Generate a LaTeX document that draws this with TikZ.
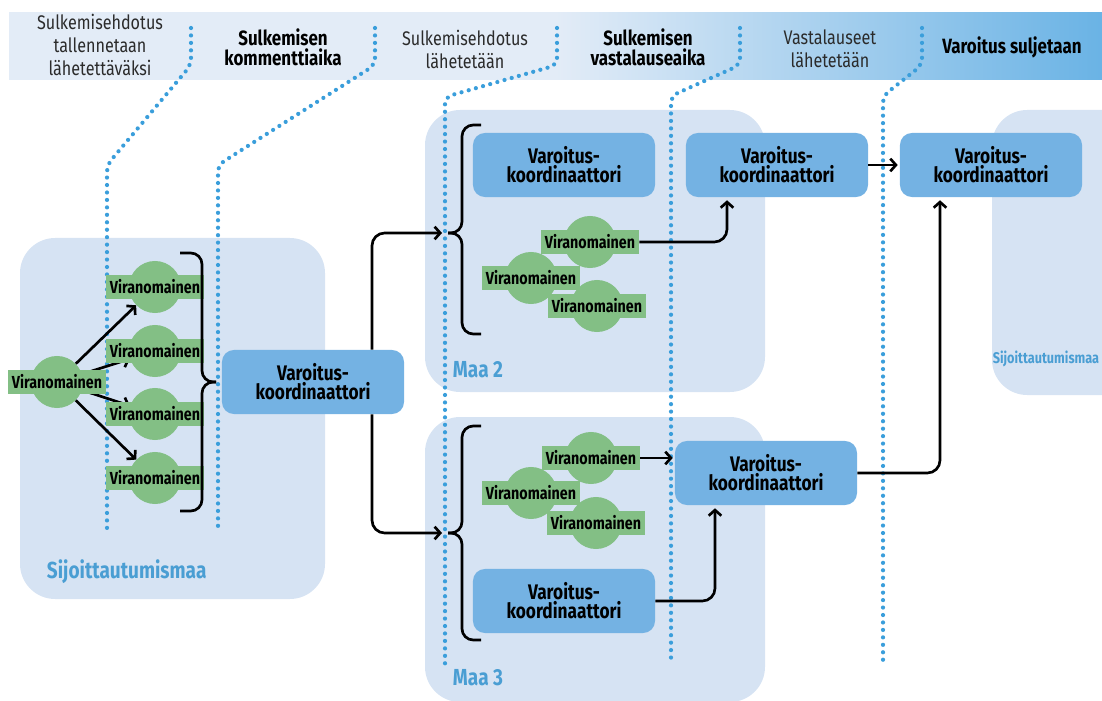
\documentclass[tikz,border=0pt]{standalone}
\usepackage{fontspec}
\setmainfont{Fira Sans}[FakeStretch=0.82]
\usetikzlibrary{arrows.meta,calc}

\definecolor{hdrlight}{HTML}{E3ECF7}
\definecolor{hdrblue}{HTML}{6AB3E5}
\definecolor{grpblue}{HTML}{D6E3F3}
\definecolor{koordblue}{HTML}{74B2E3}
\definecolor{viragreen}{HTML}{83BF85}
\definecolor{dotblue}{HTML}{3A9EDB}
\definecolor{maablue}{HTML}{4A9ED3}
\definecolor{hdrtext}{HTML}{2B2B2B}

\pgfdeclarehorizontalshading{hdrshade}{100bp}{color(0bp)=(hdrlight); color(25bp)=(hdrlight);
  color(50bp)=(hdrlight); color(75bp)=(hdrblue); color(100bp)=(hdrblue)}

\tikzset{
  grp/.style={fill=grpblue, rounded corners=25pt},
  koord/.style={fill=koordblue, rounded corners=8.5pt, minimum width=4.55cm, minimum height=1.6cm,
    align=center, font=\bfseries\fontsize{15}{13.6}\selectfont},
  virc/.style={circle, fill=viragreen, minimum size=1.3cm, inner sep=0pt},
  viran/.style={fill=viragreen, minimum width=2.45cm, minimum height=0.6cm, inner sep=0pt,
    font=\bfseries\fontsize{12.4}{12.4}\selectfont},
  dots/.style={draw=dotblue, line width=3pt, line cap=round, dash pattern=on 0pt off 5.3pt, rounded corners=5pt},
  flow/.style={line width=1.9pt, rounded corners=9pt, -{Straight Barb[length=4pt,width=9pt]}},
  curl/.style={line width=1.9pt, rounded corners=8pt},
  hdr/.style={align=center, text=hdrtext, font=\fontsize{14}{16.3}\selectfont},
  hdrb/.style={align=center, font=\bfseries\fontsize{14.7}{14.2}\selectfont},
  maa/.style={text=maablue, font=\bfseries\fontsize{16.5}{16.5}\selectfont},
}

\begin{document}
\begin{tikzpicture}[x=0.025cm, y=-0.025cm]
  \useasboundingbox (0,0) rectangle (1102,701);

  % header band
  \shade[shading=hdrshade] (9,13) rectangle (1102,80);
  \node[hdr]  (h1) at (100,45) {Sulkemisehdotus\\tallennetaan\\lähetettäväksi};
  \node[hdrb] (h2) at (283,47) {Sulkemisen\\kommenttiaika};
  \node[hdr]  (h3) at (465,49) {Sulkemisehdotus\\lähetetään};
  \node[hdrb] (h4) at (648,47) {Sulkemisen\\vastalauseaika};
  \node[hdr]  (h5) at (830,49) {Vastalauseet\\lähetetään};
  \node[hdrb] (h6) at (1012,47) {Varoitus suljetaan};

  % maat
  \fill[grp] (20,238) rectangle (325,599);
  \fill[grp] (425,110) rectangle (765,392);
  \fill[grp] (425,417) rectangle (765,702);
  \fill[grp] (992,110) rectangle (1140,395);
  \node[maa, anchor=west] (sm1) at (42,572) {Sijoittautumismaa};
  \node[maa, anchor=west] (m2) at (448,370) {Maa 2};
  \node[maa, anchor=west] (m3) at (448,678) {Maa 3};
  \node[text=maablue, font=\bfseries\fontsize{11}{11}\selectfont] (sm2) at (1046,359) {Sijoittautumismaa};

  % vaiheiden rajat
  \draw[dots] (191,28) -- (191,65) -- (107,165) -- (107,530);
  \draw[dots] (375,28) -- (375,65) -- (218,165) -- (218,530);
  \draw[dots] (557,28) -- (557,65) -- (445,97) -- (445,665);
  \draw[dots] (740,28) -- (740,65) -- (671,96) -- (671,665);
  \draw[dots] (922,28) -- (922,65) -- (883,96) -- (883,665);

  % viranomaiset
  \node[virc] (lc) at (57,382) {};
  \foreach \i/\y in {1/287,2/351,3/414,4/478}
    \node[virc] (c\i) at (155,\y) {};
  \node[virc] (a2c) at (590,242) {};
  \node[virc] (b2c) at (531,278) {};
  \node[virc] (d2c) at (597,306) {};
  \node[virc] (a3c) at (591,458) {};
  \node[virc] (b3c) at (531,493) {};
  \node[virc] (d3c) at (596,523) {};

  \foreach \i in {1,...,4}
    \draw[flow, rounded corners=0pt] (lc) -- (c\i);

  \node[viran] (lv) at (lc) {Viranomainen};
  \foreach \i in {1,...,4}
    \node[viran] (v\i) at (c\i) {Viranomainen};
  \node[viran] (a2) at (a2c) {Viranomainen};
  \node[viran] (b2) at (b2c) {Viranomainen};
  \node[viran] (d2) at (d2c) {Viranomainen};
  \node[viran] (a3) at (a3c) {Viranomainen};
  \node[viran] (b3) at (b3c) {Viranomainen};
  \node[viran] (d3) at (d3c) {Viranomainen};

  % koordinaattorit
  \node[koord] (lk)  at (313,382) {Varoitus-\\koordinaattori};
  \node[koord] (k2)  at (564,165) {Varoitus-\\koordinaattori};
  \node[koord] (k2r) at (777,165) {Varoitus-\\koordinaattori};
  \node[koord] (kr)  at (991,165) {Varoitus-\\koordinaattori};
  \node[koord] (k3r) at (766,473) {Varoitus-\\koordinaattori};
  \node[koord] (k3b) at (564,601) {Varoitus-\\koordinaattori};

  % sulkeet
  \draw[curl] (180,253) -- (202,253) -- (202,382) -- (216,382);
  \draw[curl] (180,511) -- (202,511) -- (202,382) -- (216,382);
  \draw[curl] (481,125) -- (462,125) -- (462,233) -- (448,233);
  \draw[curl] (481,334) -- (462,334) -- (462,233) -- (448,233);
  \draw[curl] (481,426) -- (462,426) -- (462,533) -- (448,533);
  \draw[curl] (481,640) -- (462,640) -- (462,533) -- (448,533);
  \coordinate (t2) at (442,233);
  \coordinate (t3) at (442,533);

  % nuolet
  \draw[flow] ($(lk.north)+(59,0)$) |- (t2);
  \draw[flow] ($(lk.south)+(59,0)$) |- (t3);
  \draw[flow] (a2.east) -| ($(k2r.south)+(-50,3)$);
  \draw[flow] (k2r.east) -- ($(kr.west)+(-2,0)$);
  \draw[flow] (a3.east) -- ($(a3.east -| k3r.west)+(-2,0)$);
  \draw[flow] (k3b.east) -| ($(k3r.south)+(-51,3)$);
  \draw[flow] (k3r.east) -| ($(kr.south)+(-51,3)$);
\end{tikzpicture}
\end{document}
